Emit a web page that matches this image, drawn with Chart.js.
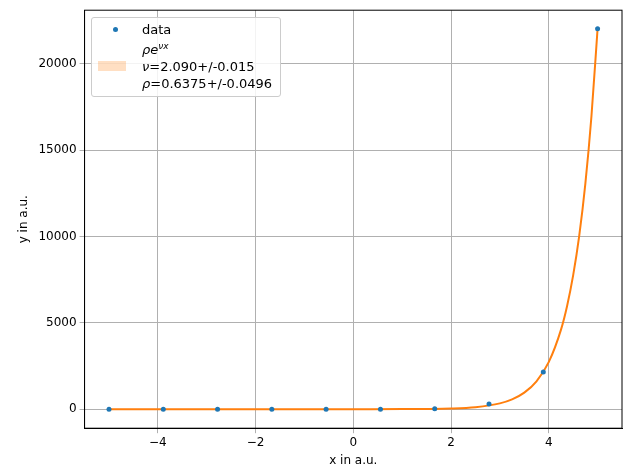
<!DOCTYPE html>
<html>
<head>
<script src="https://cdn.jsdelivr.net/npm/chart.js@4/dist/chart.umd.min.js"></script>
<style>
body { margin: 0; background: #fff; font-family: "DejaVu Sans", sans-serif; }
#wrap { position: relative; width: 630px; height: 470px; }
#legend { position: absolute; left: 91px; top: 17px; background: rgba(255,255,255,0.85); border: 1px solid #ccc; border-radius: 3px; padding: 3px 8px 4px 6px; font-size: 13px; line-height: 17px; color: #000; }
.row { display: flex; align-items: flex-start; }
.key { width: 34px; margin-right: 10px; height: 17px; position: relative; }
.dot { position: absolute; left: 15px; top: 6px; width: 5px; height: 5px; border-radius: 50%; background: #1f77b4; }
.patch { position: absolute; left: 0; top: 3px; width: 28px; height: 10px; background: rgba(255,127,14,0.25); }
</style>
</head>
<body>
<div id="wrap">
<canvas id="c" width="630" height="470"></canvas>
<div id="legend">
  <div class="row"><div class="key"><div class="dot"></div></div><div>data</div></div>
  <div class="row"><div class="key"></div><div><i>ρe</i><sup style="font-size:9px"><i>νx</i></sup></div></div>
  <div class="row"><div class="key"><div class="patch"></div></div><div><i>ν</i>=2.090+/-0.015<br><i>ρ</i>=0.6375+/-0.0496</div></div>
</div>
</div>
<script>
// measured points
const dataX = [-5, -3.889, -2.778, -1.667, -0.556, 0.556, 1.667, 2.778, 3.889, 5];
const dataY = [0, 0, 0, 1, 2, 4, 28, 300, 2150, 22030];
// fitted curve
const fitX = [-5, -4, -3, -2, -1, 0, 1, 2, 2.5, 3, 3.25, 3.5, 3.75, 4, 4.25, 4.375, 4.5, 4.625, 4.75, 4.875, 5];
const fitY = [0, 0, 0, 0, 0, 1, 5, 42, 119, 337, 568, 958, 1616, 2724, 4594, 5965, 7746, 10053, 13062, 16977, 22022];
const xTicks = [-4, -2, 0, 2, 4];
const yTicks = [0, 5000, 10000, 15000, 20000];

const pts = (xs, ys) => xs.map((x, i) => ({ x: x, y: ys[i] }));
const font = { size: 12, family: 'DejaVu Sans' };

new Chart(document.getElementById('c'), {
    type: 'scatter',
    data: {
        datasets: [
            {
                label: 'fit',
                data: pts(fitX, fitY),
                showLine: true,
                borderColor: '#ff7f0e',
                borderWidth: 2,
                pointRadius: 0,
                cubicInterpolationMode: 'monotone',
                order: 1
            },
            {
                label: 'data',
                data: pts(dataX, dataY),
                backgroundColor: '#1f77b4',
                borderWidth: 0,
                pointRadius: 2.5,
                order: 0
            }
        ]
    },
    options: {
        responsive: false,
        animation: false,
        layout: { padding: { top: 10, right: 8, left: 13, bottom: 0 } },
        plugins: { legend: { display: false }, tooltip: { enabled: false } },
        scales: {
            x: {
                type: 'linear', min: -5.5, max: 5.5,
                afterBuildTicks: s => { s.ticks = xTicks.map(v => ({ value: v })); },
                grid: { color: '#b0b0b0', tickLength: 5 },
                border: { color: '#000' },
                ticks: { color: '#000', font: font, padding: 2, callback: v => String(v).replace('-', '−') },
                title: { display: true, text: 'x in a.u.', color: '#000', font: font, padding: 2 }
            },
            y: {
                min: -1100, max: 23100,
                afterBuildTicks: s => { s.ticks = yTicks.map(v => ({ value: v })); },
                grid: { color: '#b0b0b0', tickLength: 5 },
                border: { color: '#000' },
                ticks: { color: '#000', font: font, padding: 3, callback: v => String(v) },
                title: { display: true, text: 'y in a.u.', color: '#000', font: font, padding: 4 }
            }
        }
    },
    plugins: [{
        id: 'frame',
        afterDraw: c => {
            const a = c.chartArea, g = c.ctx;
            g.save(); g.strokeStyle = '#000'; g.lineWidth = 1;
            g.strokeRect(a.left, a.top, a.right - a.left, a.bottom - a.top);
            g.restore();
        }
    }]
});
</script>
</body>
</html>
